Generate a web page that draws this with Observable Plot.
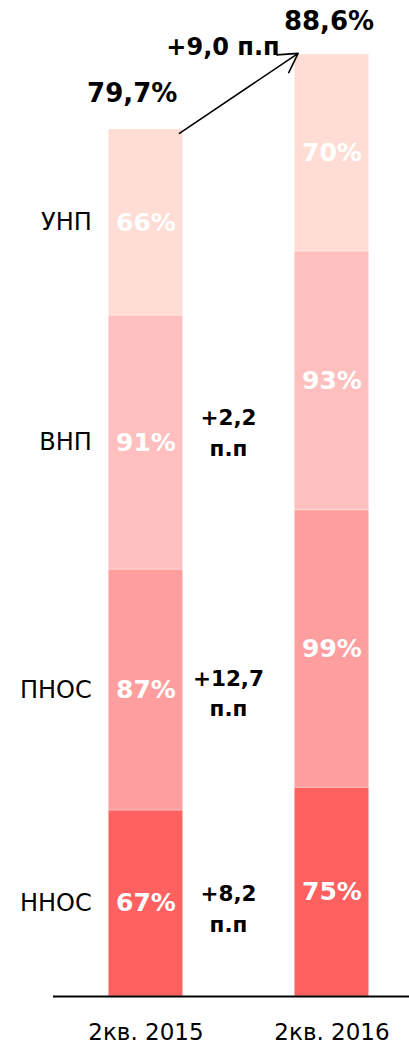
<!DOCTYPE html>
<html>
<head>
<meta charset="utf-8">
<script src="https://cdn.jsdelivr.net/npm/d3@7"></script>
<script src="https://cdn.jsdelivr.net/npm/@observablehq/plot@0.6"></script>
<style>
  html, body { margin: 0; padding: 0; background: #fff; }
</style>
</head>
<body>
<div id="chart"></div>
<script>
const years = ["2кв. 2015", "2кв. 2016"];
const categories = ["ННОС", "ПНОС", "ВНП", "УНП"];
const heights2015 = [17.1, 22.15, 23.35, 17.1];
const heights2016 = [19.2, 25.5, 23.8, 18.1];
const shares2015 = ["67%", "87%", "91%", "66%"];
const shares2016 = ["75%", "99%", "93%", "70%"];
const totals = ["79,7%", "88,6%"];
const changes = ["+8,2\nп.п", "+12,7\nп.п", "+2,2\nп.п"];
const totalChange = "+9,0 п.п";
const colors = ["#FF6060", "#FF9E9E", "#FFBFBF", "#FFDDD5"];

const rows = [];
[heights2015, heights2016].forEach((hs, i) => {
  const shares = i === 0 ? shares2015 : shares2016;
  let acc = 0;
  hs.forEach((h, k) => {
    rows.push({xi: i, year: years[i], category: categories[k], y1: acc, y2: acc + h, mid: acc + h / 2, share: shares[k]});
    acc += h;
  });
});
const sum2015 = d3.sum(heights2015);
const sum2016 = d3.sum(heights2016);
const first = rows.filter(d => d.xi === 0);

const changeDy = [3, 1, -12];
const changeMarks = changes.map((t, k) => Plot.text([first[k]], {
  x: () => 0.4435, y: "mid", text: () => t, dy: changeDy[k],
  fontSize: 21.5, fontWeight: "bold", fill: "black", lineHeight: 1.42
}));

const chart = Plot.plot({
  width: 409,
  height: 1045,
  marginLeft: 53,
  marginRight: 0,
  marginTop: 17,
  marginBottom: 49,
  style: {fontFamily: "'DejaVu Sans', sans-serif", fontSize: "23px", color: "black", background: "white"},
  x: {domain: [-0.497, 1.4167], axis: null},
  y: {domain: [0, 90], axis: null},
  color: {domain: categories, range: colors},
  marks: [
    Plot.rect(rows, {x1: d => d.xi - 0.2, x2: d => d.xi + 0.2, y1: "y1", y2: "y2", fill: "category", stroke: "white", strokeOpacity: 0.35, strokeWidth: 1}),
    Plot.text(rows, {x: "xi", y: "mid", text: "share", fill: "white", fontWeight: "bold", fontSize: 25}),
    Plot.text(first, {x: d => d.xi - 0.2, y: "mid", text: "category", textAnchor: "end", dx: -17, fontSize: 24, fill: "black"}),
    ...changeMarks,
    Plot.text([0], {x: () => -0.074, y: () => sum2015, text: () => totals[0], dy: -36, fontSize: 26, fontWeight: "bold", fill: "black"}),
    Plot.text([1], {x: () => 0.984, y: () => sum2016, text: () => totals[1], dy: -33, fontSize: 26, fontWeight: "bold", fill: "black"}),
    Plot.text([0], {x: () => 0.414, y: () => sum2016, text: () => totalChange, dy: -7, fontSize: 24, fontWeight: "bold", fill: "black"}),
    Plot.arrow([0], {x1: () => 0.18, y1: () => sum2015 - 0.35, x2: () => 0.818, y2: () => sum2016 + 0.1, stroke: "black", strokeWidth: 1.6, headLength: 20}),
    Plot.ruleY([0], {stroke: "black", strokeWidth: 2}),
    Plot.axisX({ticks: [0, 1], tickFormat: i => years[i], tickSize: 0, tickPadding: 27, fontSize: 23, fill: "black", label: null})
  ]
});
document.getElementById("chart").appendChild(chart);
</script>
</body>
</html>
